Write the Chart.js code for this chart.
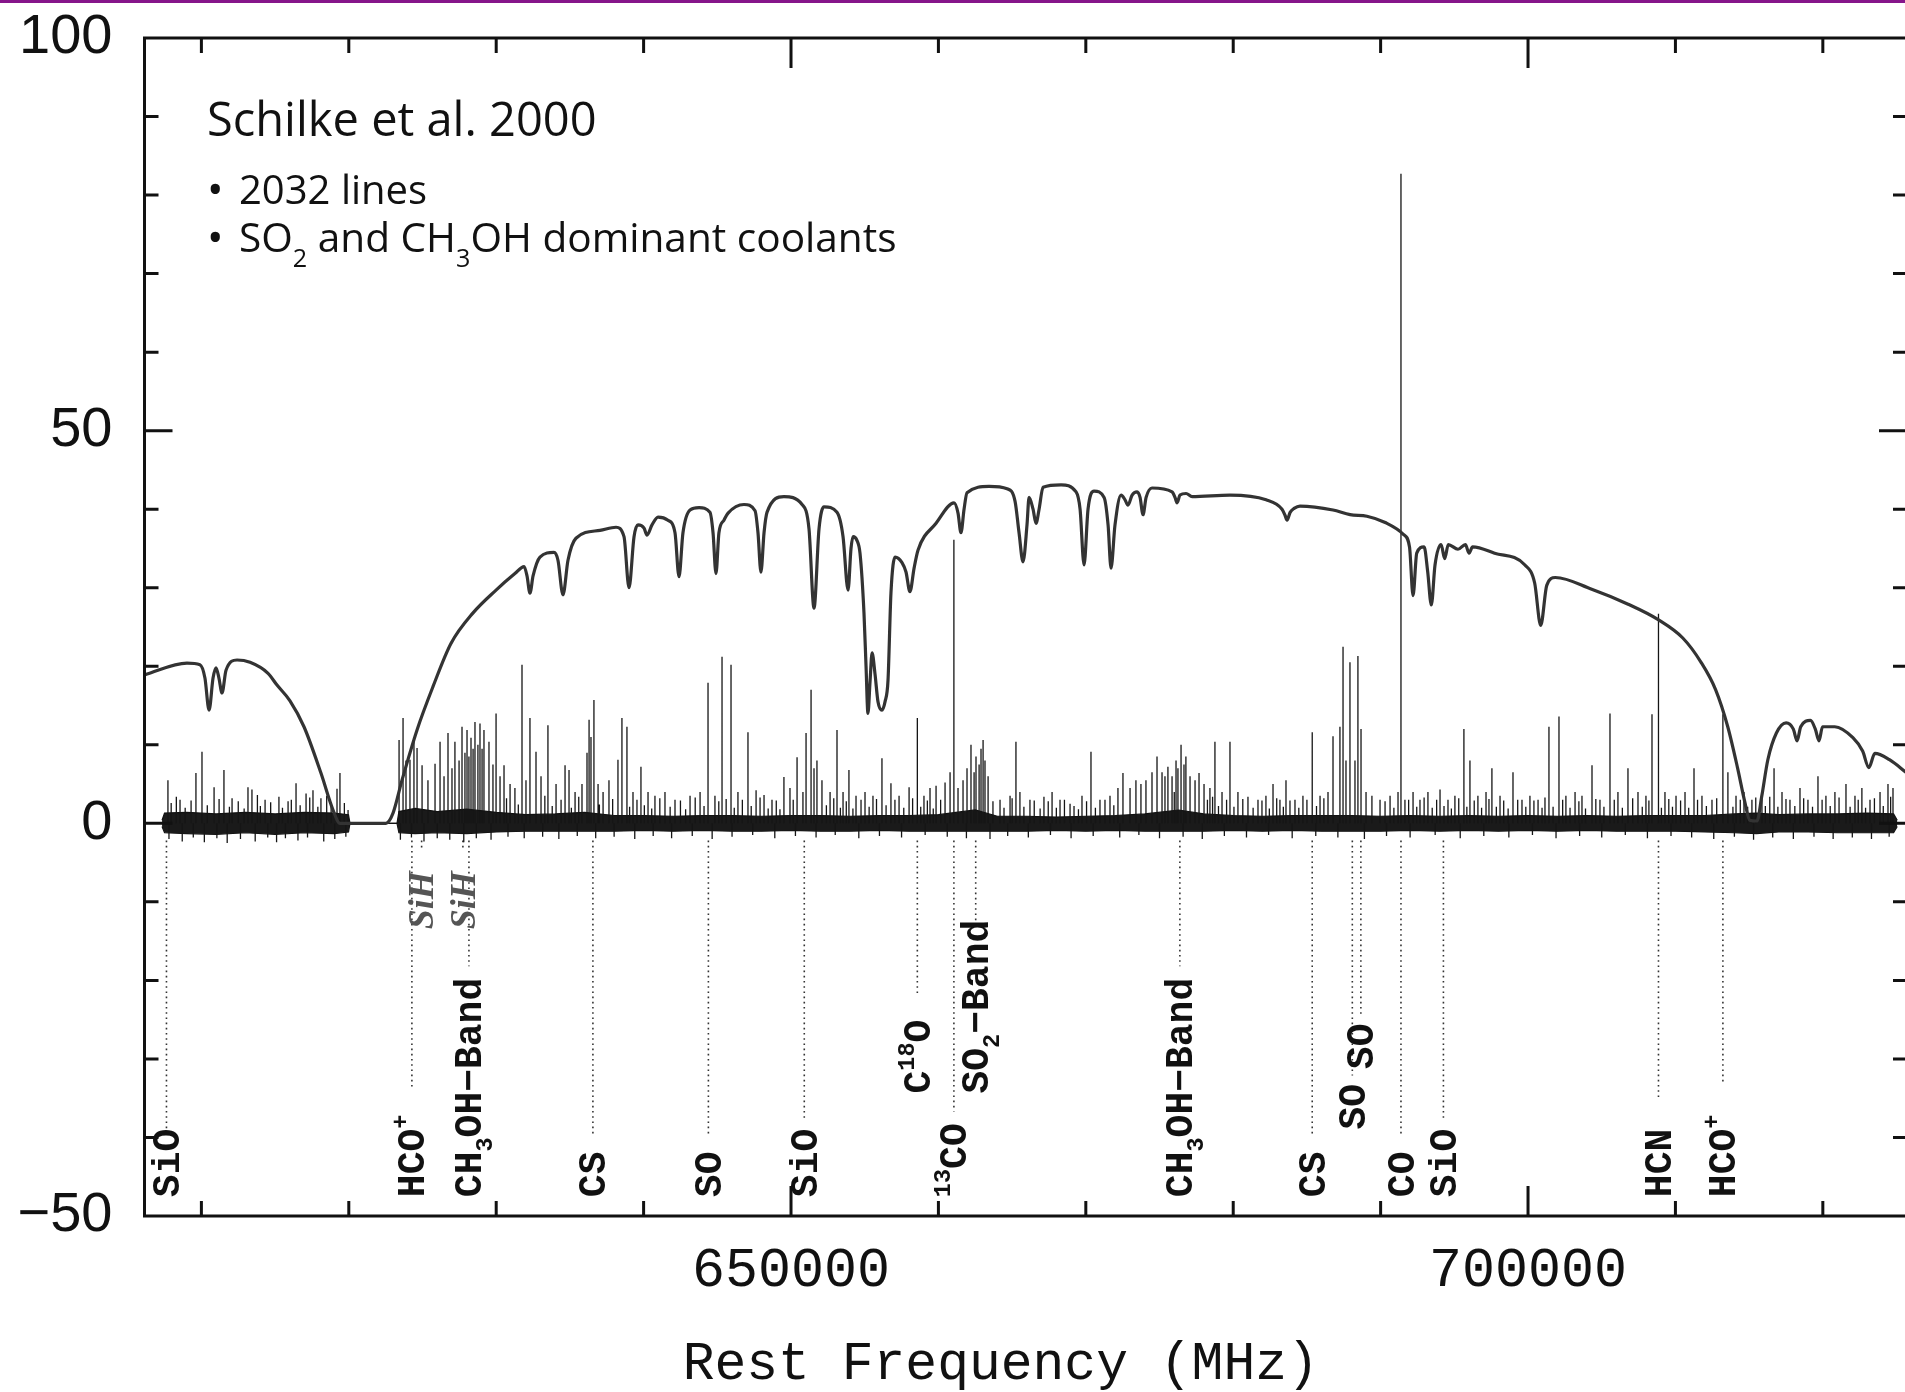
<!DOCTYPE html>
<html>
<head>
<meta charset="utf-8">
<title>Schilke et al. 2000 - Orion KL 607-725 GHz</title>
<script src="https://cdn.jsdelivr.net/npm/chart.js@4.4.1/dist/chart.umd.min.js"></script>
<style>
    html, body { margin: 0; padding: 0; background: #fff; overflow: hidden; }
    canvas { display: block; }
</style>
</head>
<body>
<canvas id="spectrum" width="1912" height="1392"></canvas>
<script>
// axis ranges (MHz / K)
const X_MIN = 606140, X_MAX = 725710;
const Y_MIN = -50, Y_MAX = 100;
const xMajorTicks = [650000, 700000];
const xMinorTicks = [610000, 620000, 630000, 640000, 650000, 660000, 670000, 680000, 690000, 700000, 710000, 720000];
const yMajorTicks = [-50, 0, 50, 100];
const yMinorTicks = [-40, -30, -20, -10, 0, 10, 20, 30, 40, 50, 60, 70, 80, 90];

// atmospheric transmission curve [MHz, value]
const transmission = [
    [606140, 18.9], [609020, 20.4], [609900, 20.2], [610240, 18.5], [610520, 14.4], [610790, 18.5],
    [610990, 19.8], [611190, 18.5], [611400, 16.6], [611670, 19.5], [612420, 20.8], [613300, 20.5],
    [614520, 19.1], [615130, 17.6], [616010, 15.6], [616960, 12.3], [618110, 6.4], [618930, 1.7],
    [619400, 0], [622520, 0], [623000, 1.3], [623610, 5.5], [624630, 11.9], [625710, 17.4],
    [626930, 22.9], [628430, 26.8], [629990, 29.7], [631270, 31.8], [631890, 32.7], [632090, 31.5],
    [632290, 29.3], [632500, 31.5], [632970, 33.9], [633920, 34.5], [634190, 33.5], [634530, 29.1],
    [634870, 33.5], [635410, 36.3], [637040, 37.3], [638130, 37.7], [638670, 36.5], [639010, 30.0],
    [639350, 36.5], [639620, 38.0], [640030, 37.6], [640230, 36.7], [640570, 38.0], [640980, 39.0],
    [641650, 38.6], [642130, 37.0], [642400, 31.4], [642670, 37.0], [643150, 39.9], [643760, 40.2],
    [644500, 39.6], [644710, 37.0], [644910, 31.8], [645110, 37.0], [645450, 38.6], [645730, 39.5],
    [646810, 40.6], [647560, 39.8], [647760, 37.0], [647960, 32.0], [648170, 37.0], [648370, 39.6],
    [649520, 41.6], [650750, 40.6], [651220, 37.5], [651560, 27.4], [651900, 37.5], [652240, 40.3],
    [653120, 39.6], [653530, 36.5], [653870, 29.7], [654070, 35.0], [654210, 36.5], [654480, 36.0],
    [654680, 34.4], [654950, 26.8], [655090, 20.0], [655220, 14.0], [655360, 18.0], [655500, 21.7],
    [655700, 19.0], [655900, 15.5], [656170, 14.4], [656380, 15.5], [656580, 18.2], [656780, 29.3],
    [657060, 33.9], [657530, 33.2], [657800, 32.0], [658070, 29.5], [658350, 32.5], [658620, 34.8],
    [659840, 38.2], [661060, 40.8], [661330, 39.5], [661530, 37.0], [661740, 40.0], [661940, 42.1],
    [663430, 42.9], [664660, 42.6], [665200, 41.0], [665470, 37.0], [665740, 33.3], [666010, 38.0],
    [666150, 41.5], [666420, 40.0], [666620, 38.2], [666830, 40.0], [667100, 42.8], [668320, 43.1],
    [669340, 42.2], [669610, 40.0], [669880, 32.9], [670150, 40.0], [670560, 42.3], [671240, 41.5],
    [671510, 38.0], [671710, 32.5], [671980, 38.0], [672390, 41.8], [672660, 41.2], [672860, 40.5],
    [673140, 41.8], [673480, 42.2], [673680, 41.5], [673880, 39.3], [674090, 41.5], [674490, 42.7],
    [675850, 42.2], [676050, 41.5], [676190, 40.8], [676390, 41.8], [676800, 42.0], [677210, 41.6],
    [679780, 41.8], [682230, 41.2], [683310, 40.0], [683520, 39.2], [683650, 38.6], [683860, 39.6],
    [684130, 40.1], [684530, 40.4], [686770, 39.9], [687930, 39.3], [689070, 39.1], [690310, 38.3],
    [691540, 36.8], [691960, 35.2], [692200, 29.0], [692450, 34.4], [692950, 35.2], [693190, 32.1],
    [693440, 27.8], [693690, 32.9], [694100, 35.5], [694350, 33.7], [694590, 35.5], [695250, 34.9],
    [695750, 35.5], [696000, 34.4], [696240, 35.2], [697730, 34.4], [699790, 32.9], [700450, 30.6],
    [700860, 25.2], [701270, 30.3], [701850, 31.3], [704320, 29.8], [706790, 27.9], [708860, 25.9],
    [710500, 23.6], [711740, 20.5], [712730, 17.0], [713550, 12.3], [714210, 7.1], [714710, 2.7],
    [715040, 0.4], [715530, 0.3], [715860, 3.5], [716270, 8.1], [716850, 11.5], [717510, 12.8],
    [718000, 12.0], [718250, 10.5], [718500, 12.3], [719160, 13.1], [719490, 12.0], [719740, 10.5],
    [719980, 12.3], [720810, 12.3], [722040, 10.9], [722700, 9.2], [723120, 7.1], [723530, 8.9],
    [724520, 8.1], [725710, 6.4]
];

// baseline noise envelope [MHz, upper, lower]
const noiseBand = [
    [607330, 0.4, -0.4], [607500, 1.3, -1.2], [609000, 1.4, -1.3], [611000, 1.2, -1.4],
    [613000, 1.4, -1.2], [615000, 1.2, -1.4], [617000, 1.4, -1.2], [619000, 1.3, -1.3],
    [619980, 1.1, -1.1], [620080, 0, 0], [623270, 0, 0], [623400, 1.5, -1.2],
    [624500, 1.9, -1.3], [626000, 1.5, -1.2], [628000, 1.8, -1.3], [630000, 1.4, -1.1],
    [632000, 1.1, -1.0], [634000, 1.2, -1.0], [636000, 1.4, -1.0], [638000, 1.0, -1.0],
    [640000, 1.0, -0.9], [642000, 0.9, -1.0], [644000, 1.0, -0.9], [646000, 1.0, -1.0],
    [648000, 0.9, -1.0], [650000, 1.0, -0.9], [652000, 1.0, -1.0], [654000, 0.9, -1.0],
    [656000, 1.0, -0.9], [658000, 1.0, -1.0], [660000, 1.1, -1.0], [662500, 1.7, -1.0],
    [664000, 0.9, -1.0], [666000, 0.9, -1.0], [668000, 0.8, -0.9], [670000, 0.9, -1.0],
    [672000, 1.0, -0.9], [674000, 1.2, -1.0], [676300, 1.7, -1.0], [678000, 1.2, -1.0],
    [680000, 1.0, -0.9], [682000, 0.9, -1.0], [684000, 1.0, -0.9], [686000, 1.0, -1.0],
    [688000, 1.0, -1.0], [690000, 0.9, -1.0], [692000, 1.0, -0.9], [694000, 0.9, -1.0],
    [696000, 1.0, -0.9], [698000, 0.9, -1.0], [700000, 1.0, -0.9], [702000, 0.9, -1.0],
    [704000, 1.0, -0.9], [706000, 0.9, -1.0], [708000, 1.0, -1.0], [710000, 1.0, -1.0],
    [712000, 1.0, -1.1], [714000, 1.2, -1.2], [715500, 1.3, -1.3], [717000, 1.1, -1.1],
    [719000, 1.2, -1.1], [721000, 1.2, -1.2], [723000, 1.3, -1.2], [724800, 1.2, -1.2],
    [725050, 0.4, -0.4]
];

// emission line peaks [MHz, peak]
const emissionLines = [
    [607730, 5.5], [608550, 3.0], [609630, 6.4], [610040, 9.1], [610860, 4.6], [611530, 6.8],
    [612080, 3.2], [613160, 4.6], [613430, 4.3], [614320, 3.0], [615260, 3.4], [615880, 2.8],
    [616420, 5.1], [617100, 3.8], [617570, 4.2], [618110, 3.2], [619400, 6.4], [619950, 1.7],
    [623410, 10.6], [623680, 13.4], [623880, 8.0], [624150, 8.1], [624420, 11.0], [624630, 9.6],
    [624970, 7.4], [625370, 5.5], [625850, 7.6], [626190, 10.4], [626460, 6.0], [626730, 11.5],
    [627000, 7.0], [627200, 10.4], [627480, 8.0], [627680, 12.3], [627880, 9.0], [628020, 11.9],
    [628150, 8.5], [628290, 10.9], [628430, 9.5], [628560, 12.9], [628760, 10.0], [628900, 12.7],
    [629040, 9.5], [629170, 11.9], [629510, 10.4], [629780, 7.5], [629990, 14.0], [630260, 6.0],
    [630530, 7.4], [630940, 5.0], [631270, 4.5], [631750, 20.2], [632020, 5.5], [632290, 13.4],
    [632700, 9.1], [633040, 6.0], [633510, 12.5], [634060, 5.0], [634670, 7.4], [634940, 6.8],
    [635350, 4.0], [635820, 5.0], [636160, 9.0], [636300, 13.2], [636430, 11.0], [636630, 15.7],
    [636910, 5.0], [637250, 4.0], [637650, 5.5], [638260, 8.1], [638530, 13.4], [638870, 12.3],
    [639280, 4.0], [639820, 7.2], [640300, 4.0], [640770, 3.5], [641450, 4.0], [642130, 3.0],
    [643150, 3.5], [643830, 4.0], [644370, 17.9], [644840, 3.5], [645320, 21.2], [645930, 20.2],
    [646400, 4.0], [647080, 11.6], [647630, 4.2], [648170, 3.6], [648710, 3.0], [649520, 5.9],
    [649930, 4.5], [650410, 8.4], [650810, 4.0], [651020, 11.5], [651360, 17.0], [651560, 7.0],
    [651760, 8.0], [652100, 5.5], [652650, 4.0], [653120, 11.9], [653530, 4.0], [653930, 6.8],
    [654410, 3.5], [655020, 4.0], [655560, 3.5], [656170, 8.3], [656780, 5.1], [657330, 3.5],
    [658010, 4.6], [658570, 13.4], [659020, 3.5], [659430, 4.5], [659840, 4.8], [660450, 5.2],
    [660790, 6.5], [661050, 36.1], [661330, 4.5], [661670, 5.5], [661940, 7.0], [662210, 10.0],
    [662420, 6.5], [662550, 8.5], [662760, 7.5], [662890, 9.5], [663030, 10.6], [663160, 8.0],
    [663370, 6.0], [664180, 3.0], [664860, 3.5], [665260, 10.4], [665530, 4.0], [666210, 3.0],
    [667160, 3.4], [667710, 4.0], [668250, 3.0], [668930, 2.5], [669740, 3.5], [670350, 9.1],
    [670960, 3.0], [671640, 3.5], [672180, 4.5], [672520, 6.4], [673000, 4.5], [673400, 5.5],
    [673740, 5.0], [674080, 5.5], [674490, 6.5], [674830, 8.5], [675170, 6.5], [675370, 6.0],
    [675570, 7.2], [675850, 6.0], [676120, 8.0], [676250, 7.0], [676460, 10.0], [676660, 7.5],
    [676790, 8.5], [677070, 6.0], [677410, 5.5], [677680, 6.4], [678020, 5.0], [678420, 4.5],
    [678760, 10.4], [679240, 4.0], [679780, 10.4], [680320, 4.0], [681000, 3.4], [681680, 3.0],
    [682220, 3.5], [682700, 5.0], [683170, 3.0], [683580, 5.5], [684190, 3.0], [684730, 3.5],
    [685360, 11.6], [685890, 3.5], [686430, 4.0], [686770, 11.1], [687240, 12.3], [687450, 22.5],
    [687650, 8.0], [687920, 20.5], [688260, 8.0], [688460, 21.3], [688670, 12.0], [689010, 4.0],
    [689410, 3.5], [689960, 3.0], [690640, 3.5], [691180, 4.0], [691380, 82.7], [691650, 3.0],
    [692200, 4.0], [692670, 3.0], [693210, 4.0], [694030, 4.3], [694570, 3.0], [695040, 3.5],
    [695650, 12.0], [696060, 8.0], [696600, 3.5], [697150, 4.0], [697550, 7.0], [698100, 3.5],
    [698980, 6.5], [699590, 3.0], [700130, 3.5], [700680, 3.0], [701420, 12.3], [702100, 13.6],
    [702570, 3.5], [703190, 4.0], [703660, 3.5], [704340, 7.4], [704880, 3.0], [705560, 14.0],
    [706100, 4.0], [706780, 7.0], [707460, 4.0], [708000, 3.5], [708410, 13.9], [708850, 26.7],
    [709290, 4.0], [710040, 3.5], [710650, 4.0], [711260, 7.0], [711800, 3.5], [712480, 3.0],
    [713220, 13.9], [713560, 6.5], [714110, 3.5], [714650, 4.0], [715190, 3.0], [715870, 3.5],
    [716690, 7.0], [717230, 4.0], [717770, 3.0], [718450, 4.5], [718990, 3.0], [719670, 6.0],
    [720210, 3.5], [720820, 4.0], [721570, 5.0], [722180, 3.5], [722650, 4.5], [723200, 3.0],
    [723880, 4.0], [724420, 5.0], [724760, 4.5]
];

// weak features riding on the noise [MHz, peak]
const weakLines = [
    [607950, 2.6], [608300, 3.4], [608900, 2.0], [609300, 2.9], [610400, 2.3], [611200, 3.1],
    [611900, 2.1], [612500, 2.8], [612900, 1.9], [613800, 3.6], [614000, 2.2], [614700, 2.7],
    [615500, 2.0], [616100, 3.0], [616700, 2.3], [617350, 3.3], [617900, 2.1], [618500, 3.5],
    [618800, 2.4], [619200, 4.4], [619700, 2.6], [630700, 3.2], [631500, 2.4], [633300, 3.5],
    [633800, 2.2], [634400, 3.0], [635100, 2.0], [635600, 3.4], [637000, 2.4], [637900, 3.1],
    [639050, 2.1], [639550, 3.0], [640050, 2.3], [640550, 1.9], [641100, 3.2], [641800, 2.1],
    [642500, 2.9], [642850, 1.8], [643500, 3.3], [644100, 2.2], [645100, 2.8], [645600, 3.1],
    [646150, 2.0], [646700, 3.0], [647300, 2.2], [647900, 3.3], [648450, 1.9], [649000, 2.9],
    [649250, 1.8], [650150, 3.0], [652400, 2.3], [652900, 3.2], [653350, 2.0], [653750, 2.8],
    [654200, 1.9], [654750, 3.0], [655300, 2.1], [655800, 3.1], [656450, 2.3], [657050, 3.0],
    [657650, 2.0], [658250, 3.2], [658800, 2.1], [659250, 2.9], [659650, 1.9], [660150, 3.0],
    [663700, 2.8], [664450, 2.0], [665000, 3.2], [665800, 2.1], [666500, 2.9], [666900, 1.9],
    [667450, 2.8], [668000, 2.0], [668550, 3.0], [669200, 2.2], [669500, 1.8], [670050, 2.8],
    [670650, 2.0], [671300, 3.0], [671900, 2.3], [676000, 4.0], [678250, 3.0], [678600, 3.4],
    [679000, 2.2], [679550, 3.0], [680050, 2.1], [680650, 3.1], [681350, 2.0], [681950, 2.9],
    [682450, 1.9], [682950, 3.2], [683400, 2.1], [683850, 2.9], [684450, 2.0], [685000, 3.0],
    [685650, 2.2], [686150, 3.2], [690300, 2.8], [690900, 2.0], [691900, 3.0], [692450, 2.1],
    [692950, 3.3], [693500, 2.0], [693800, 3.0], [694300, 2.2], [694800, 1.9], [695300, 3.2],
    [695850, 2.1], [696350, 2.9], [696850, 2.0], [697350, 3.1], [697850, 2.1], [698350, 2.9],
    [698650, 1.9], [699300, 3.0], [699850, 2.1], [700400, 2.9], [700950, 2.0], [701150, 3.3],
    [701700, 2.1], [702350, 3.0], [702850, 2.0], [703450, 2.8], [703900, 1.9], [704600, 3.1],
    [705150, 2.1], [705850, 3.0], [706400, 2.0], [707100, 3.2], [707750, 2.1], [708200, 2.9],
    [709050, 2.0], [709550, 3.1], [709800, 2.1], [710350, 2.9], [710900, 2.0], [711500, 3.0],
    [712100, 2.2], [712800, 3.2], [713900, 2.1], [714400, 3.0], [714900, 2.1], [715450, 3.3],
    [716100, 2.2], [716400, 3.4], [716950, 2.1], [717500, 3.1], [718100, 2.2], [718700, 3.2],
    [719300, 2.1], [719950, 3.0], [720500, 2.2], [721100, 3.3], [721850, 2.1], [722400, 3.0],
    [722900, 2.0], [723500, 3.2], [724100, 2.2], [724600, 3.4]
];

// downward noise excursions [MHz, value]
const noiseDips = [
    [607800, -2.0], [608700, -2.3], [609450, -1.8], [610200, -2.4], [611050, -1.9], [611750, -2.5],
    [612650, -2.0], [613650, -2.3], [614500, -1.8], [615100, -2.4], [615700, -1.9], [616550, -2.2],
    [617200, -1.8], [618300, -2.3], [619050, -2.0], [619800, -1.7], [623500, -2.1], [624250, -1.8],
    [625100, -2.3], [626000, -1.9], [626850, -2.1], [627800, -2.4], [628650, -1.9], [629650, -2.1],
    [630800, -1.7], [631900, -1.9], [633150, -1.7], [634250, -2.0], [635500, -1.6], [636750, -1.9],
    [638000, -1.7], [639400, -2.0], [640650, -1.6], [641900, -1.9], [643300, -1.6], [644650, -2.0],
    [646000, -1.7], [647400, -1.5], [648900, -1.9], [650300, -1.6], [651700, -1.8], [653000, -1.5],
    [654600, -1.9], [656000, -1.6], [657500, -1.8], [659100, -1.5], [660600, -1.7], [661900, -1.9],
    [663500, -2.0], [664700, -1.6], [666100, -1.8], [667600, -1.5], [669000, -1.9], [670500, -1.6],
    [672300, -1.8], [673600, -1.5], [675000, -1.9], [676600, -1.7], [677900, -2.0], [679400, -1.6],
    [680900, -1.8], [682400, -1.5], [684000, -1.9], [685600, -1.6], [687100, -1.8], [688900, -2.0],
    [690400, -1.6], [692000, -1.8], [693700, -1.5], [695400, -1.9], [697000, -1.6], [698700, -1.8],
    [700300, -1.5], [701900, -1.9], [703500, -1.6], [705000, -1.8], [706600, -1.5], [708100, -1.9],
    [709700, -1.6], [711100, -1.8], [712600, -2.0], [714000, -1.7], [715300, -2.1], [716600, -1.8],
    [718000, -2.0], [719400, -1.7], [720700, -2.0], [722000, -1.8], [723300, -2.0], [724500, -1.7]
];

// line identifications [MHz, label, leader end, label start] ("^" sup, "_" sub)
const LEADER_TOP = -2.2;
const lineIds = [
    [607630, 'SiO', -39.0, -47.6],
    [624280, 'HCO^+', -33.6, -47.6],
    [628150, 'CH_3OH\u2212Band', -18.2, -47.6],
    [636560, 'CS', -39.8, -47.6],
    [644395, 'SO', -39.8, -47.6],
    [650900, 'SiO', -37.5, -47.6],
    [658570, 'C^18O', -22.0, -34.4],
    [661050, '^13CO', -36.7, -47.6],
    [662530, 'SO_2\u2212Band', -12.8, -34.4],
    [676380, 'CH_3OH\u2212Band', -18.2, -47.6],
    [685360, 'CS', -39.8, -47.6],
    [688080, 'SO', -32.1, -39.0],
    [688660, 'SO', -24.4, -31.3],
    [691380, 'CO', -39.8, -47.6],
    [694260, 'SiO', -37.5, -47.6],
    [708850, 'HCN', -35.2, -47.6],
    [713220, 'HCO^+', -32.9, -47.6]
];
// blended SiH markers [MHz, label, leader end, label start]
const blendIds = [
    [624940, 'SiH', -3.2, -13.5],
    [627740, 'SiH', -3.2, -13.5]
];

const noteTitle = 'Schilke et al. 2000';
const noteLines = ['2032 lines', 'SO_2 and CH_3OH dominant coolants'];
const TITLE_SHIFT = -25;   // axis title sits left of the box centre in the original

// draws text with ^sup and _sub runs, returns the advance
function drawRich(ctx, str, x, y, size, family, weight, subDrop) {
    const parts = [];
    let i = 0;
    while (i < str.length) {
        const c = str[i];
        if (c === '^' || c === '_') {
            let j = i + 1;
            if (str[j] === '+') j++;
            else while (j < str.length && /\d/.test(str[j])) j++;
            parts.push({ t: str.slice(i + 1, j), k: c });
            i = j;
        } else {
            let j = i;
            while (j < str.length && str[j] !== '^' && str[j] !== '_') j++;
            parts.push({ t: str.slice(i, j), k: '' });
            i = j;
        }
    }
    let cx = x;
    parts.forEach(p => {
        const s = p.k ? size * 0.62 : size;
        ctx.font = `${weight} ${s}px ${family}`;
        let dy = 0;
        if (p.k === '^') dy = -size * 0.42;
        if (p.k === '_') dy = size * (subDrop || 0.3);
        ctx.fillText(p.t, cx, y + dy);
        cx += ctx.measureText(p.t).width;
    });
    return cx - x;
}

const framePlugin = {
    id: 'frame',
    afterLayout(chart) {
        const s = chart.scales.x;
        if (!s._plainDrawTitle) {
            s._plainDrawTitle = s.drawTitle;
            s.drawTitle = function () {
                this.ctx.save();
                this.ctx.translate(TITLE_SHIFT, 0);
                this._plainDrawTitle();
                this.ctx.restore();
            };
        }
    },
    afterDraw(chart) {
        const { ctx, chartArea: a, scales: { x, y } } = chart;
        ctx.save();

        // purple rule along the top edge
        ctx.fillStyle = '#86168a';
        ctx.fillRect(0, 0, chart.width, 3);

        // box
        ctx.strokeStyle = '#111';
        ctx.lineWidth = 3;
        ctx.strokeRect(a.left, a.top, a.right - a.left, a.bottom - a.top);

        // inward ticks on all four sides
        ctx.beginPath();
        xMinorTicks.forEach(v => {
            const px = x.getPixelForValue(v);
            const len = xMajorTicks.includes(v) ? 30 : 15;
            ctx.moveTo(px, a.bottom); ctx.lineTo(px, a.bottom - len);
            ctx.moveTo(px, a.top); ctx.lineTo(px, a.top + len);
        });
        yMinorTicks.forEach(v => {
            const py = y.getPixelForValue(v);
            const len = yMajorTicks.includes(v) ? 28 : 14;
            ctx.moveTo(a.left, py); ctx.lineTo(a.left + len, py);
            ctx.moveTo(a.right, py); ctx.lineTo(a.right - len, py);
        });
        ctx.stroke();

        // rotated line identifications
        ctx.textAlign = 'left';
        ctx.textBaseline = 'alphabetic';
        const idSize = 38;
        lineIds.forEach(([f, label, , start]) => {
            ctx.save();
            ctx.translate(x.getPixelForValue(f) + idSize * 0.33, y.getPixelForValue(start));
            ctx.rotate(-Math.PI / 2);
            ctx.fillStyle = '#111';
            drawRich(ctx, label, 0, 0, idSize, '"Liberation Mono"', '700', 0.28);
            ctx.restore();
        });
        blendIds.forEach(([f, label, , start]) => {
            ctx.save();
            ctx.translate(x.getPixelForValue(f) + 36 * 0.33, y.getPixelForValue(start));
            ctx.rotate(-Math.PI / 2);
            ctx.fillStyle = '#555';
            drawRich(ctx, label, 0, 0, 36, '"Liberation Serif"', 'italic 700');
            ctx.restore();
        });

        // annotation block
        ctx.fillStyle = '#111';
        drawRich(ctx, noteTitle, 207, 136, 47, '"Open Sans"', '400');
        ctx.font = '400 44px "Open Sans"';
        ctx.fillText('\u2022', 207, 205);
        drawRich(ctx, noteLines[0], 239, 204, 40, '"Open Sans"', '400');
        ctx.font = '400 44px "Open Sans"';
        ctx.fillText('\u2022', 207, 253);
        drawRich(ctx, noteLines[1], 239, 252, 40.6, '"Open Sans"', '400', 0.38);

        ctx.restore();
    }
};

document.addEventListener("DOMContentLoaded", () => {
    const ctx = document.getElementById("spectrum").getContext("2d");

    const spikePts = [];
    emissionLines.concat(weakLines, noiseDips).forEach(([f, h]) => {
        spikePts.push({ x: f, y: 0 }, { x: f, y: h }, { x: f, y: null });
    });
    const leaderPts = [];
    lineIds.concat(blendIds).forEach(([f, , end]) => {
        leaderPts.push({ x: f, y: LEADER_TOP }, { x: f, y: end }, { x: f, y: null });
    });

    new Chart(ctx, {
        type: 'line',
        data: {
            datasets: [
                {
                    label: 'Atmospheric transmission',
                    data: transmission.map(p => ({ x: p[0], y: p[1] })),
                    borderColor: '#333',
                    borderWidth: 3.2,
                    pointRadius: 0,
                    cubicInterpolationMode: 'monotone',
                    fill: false,
                    order: 0
                },
                {
                    label: 'Emission lines',
                    data: spikePts,
                    borderColor: '#151515',
                    borderWidth: 1.3,
                    pointRadius: 0,
                    spanGaps: false,
                    fill: false,
                    order: 1
                },
                {
                    label: 'Noise upper',
                    data: noiseBand.map(p => ({ x: p[0], y: p[1] })),
                    borderColor: '#111',
                    backgroundColor: '#1a1a1a',
                    borderWidth: 1.2,
                    pointRadius: 0,
                    fill: '+1',
                    order: 2
                },
                {
                    label: 'Noise lower',
                    data: noiseBand.map(p => ({ x: p[0], y: p[2] })),
                    borderColor: '#111',
                    borderWidth: 1.2,
                    pointRadius: 0,
                    fill: false,
                    order: 3
                },
                {
                    label: 'Leaders',
                    data: leaderPts,
                    borderColor: '#333',
                    borderWidth: 1.6,
                    borderDash: [1.6, 3.6],
                    pointRadius: 0,
                    spanGaps: false,
                    fill: false,
                    order: 4
                }
            ]
        },
        options: {
            responsive: false,
            animation: false,
            devicePixelRatio: 1,
            layout: { padding: { top: 38, right: 5, left: 0, bottom: 0 } },
            plugins: {
                legend: { display: false },
                tooltip: { enabled: false }
            },
            scales: {
                x: {
                    type: 'linear',
                    min: X_MIN,
                    max: X_MAX,
                    grid: { display: false, drawTicks: true, tickLength: 22 },
                    border: { display: false },
                    afterBuildTicks: s => { s.ticks = xMajorTicks.map(v => ({ value: v })); },
                    afterFit: s => { s.height = 176; },
                    ticks: {
                        autoSkip: false,
                        maxRotation: 0,
                        padding: 0,
                        color: '#111',
                        font: { family: '"Liberation Mono"', size: 55 },
                        callback: v => String(v)
                    },
                    title: {
                        display: true,
                        text: 'Rest Frequency (MHz)',
                        color: '#111',
                        font: { family: '"Liberation Mono"', size: 53 },
                        padding: { top: 0, bottom: -5 }
                    }
                },
                y: {
                    type: 'linear',
                    min: Y_MIN,
                    max: Y_MAX,
                    grid: { display: false, drawTicks: true, tickLength: 32 },
                    border: { display: false },
                    afterBuildTicks: s => { s.ticks = yMajorTicks.map(v => ({ value: v })); },
                    afterFit: s => { s.width = 144.5; },
                    ticks: {
                        autoSkip: false,
                        padding: 0,
                        color: '#111',
                        font: { family: '"Liberation Sans"', size: 56 },
                        callback: v => (v < 0 ? '\u2212' + Math.abs(v) : String(v))
                    }
                }
            }
        },
        plugins: [framePlugin]
    });
});
</script>
</body>
</html>
